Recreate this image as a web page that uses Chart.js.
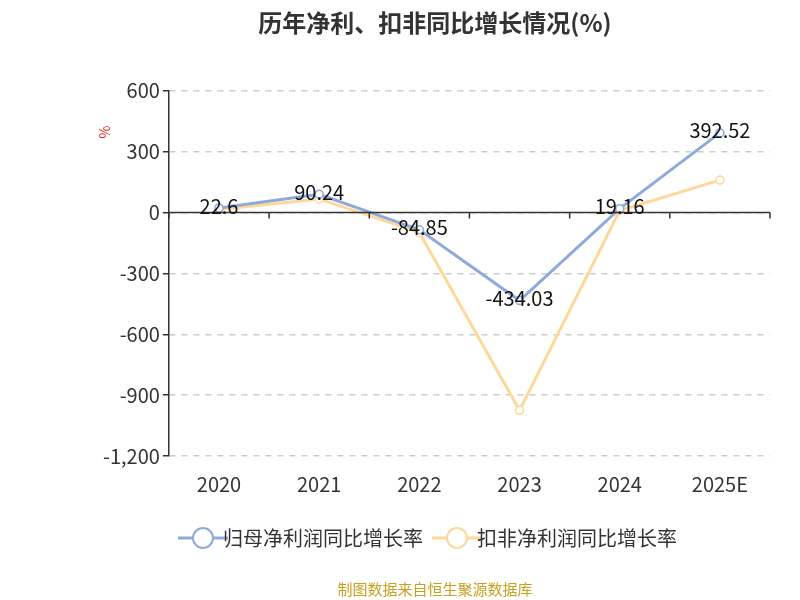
<!DOCTYPE html>
<html><head><meta charset="utf-8">
<script src="https://cdn.jsdelivr.net/npm/chart.js@4/dist/chart.umd.min.js"></script>
<style>body{margin:0;background:#fff}#w{width:800px;height:600px;position:relative}</style>
</head><body><div id="w"><canvas id="c" width="800" height="600"></canvas></div>
<script>
const categories=['2020','2021','2022','2023','2024','2025E'];
const netProfitGrowth=[22.6,90.24,-84.85,-434.03,19.16,392.52];
const deductedGrowth=[15,67,-98,-975,10,160];
const yTicks=[600,300,0,-300,-600,-900,-1200];
const F='"Noto Sans CJK SC","Noto Sans",sans-serif';
function legendIcon(col){const cv=document.createElement('canvas');cv.width=50;cv.height=26;const c=cv.getContext('2d');
 c.strokeStyle=col;c.lineWidth=3;c.beginPath();c.moveTo(0,13);c.lineTo(50,13);c.stroke();
 c.fillStyle='#fff';c.lineWidth=2;c.beginPath();c.arc(25,13,10,0,Math.PI*2);c.fill();c.stroke();return cv;}
const deco={id:'deco',afterDraw(ch){
 const c=ch.ctx,x=ch.scales.x,y=ch.scales.y;
 const y0=y.getPixelForValue(0);
 c.save();c.strokeStyle='#333';c.lineWidth=1.5;
 c.beginPath();c.moveTo(x.left,y0);c.lineTo(x.right,y0);
 for(let i=0;i<=categories.length;i++){const px=x.left+(x.right-x.left)*i/categories.length;c.moveTo(px,y0);c.lineTo(px,y0+6);}
 c.stroke();
 c.fillStyle='#e02020';c.font='14px '+F;c.translate(105,132);c.rotate(-Math.PI/2);c.textAlign='center';c.fillText('%',0,0);
 c.restore();
 c.save();c.font='20px '+F;c.fillStyle='#111';c.textAlign='center';c.textBaseline='middle';
 const m=ch.getDatasetMeta(0);
 m.data.forEach((p,i)=>c.fillText(String(netProfitGrowth[i]),p.x,p.y-2));
 c.restore();
}};
new Chart(document.getElementById('c'),{type:'line',
data:{labels:categories,datasets:[
{label:'归母净利润同比增长率',data:netProfitGrowth,borderColor:'#8eaadb',backgroundColor:'#fff',borderWidth:3,pointRadius:4,pointBorderWidth:1.5,pointBackgroundColor:'#fff',tension:0,pointStyle:'circle'},
{label:'扣非净利润同比增长率',data:deductedGrowth,borderColor:'#fdd89a',backgroundColor:'#fff',borderWidth:3,pointRadius:4,pointBorderWidth:1.5,pointBackgroundColor:'#fff',tension:0,pointStyle:'circle'}]},
options:{responsive:false,animation:false,
layout:{padding:{left:100,right:30,top:0,bottom:0}},
plugins:{title:{display:true,text:'历年净利、扣非同比增长情况(%)',font:{size:24,weight:'bold',family:F},color:'#333',padding:{top:8,bottom:54}},
legend:{position:'bottom',labels:{usePointStyle:true,font:{size:20,family:F},color:'#333',padding:24,
 generateLabels:ch=>ch.data.datasets.map((d,i)=>({text:d.label,pointStyle:legendIcon(d.borderColor),fontColor:'#333',datasetIndex:i,hidden:false,lineWidth:0}))}},
subtitle:{display:true,position:'bottom',text:'制图数据来自恒生聚源数据库',color:'#c8a020',font:{size:15,family:F},padding:{top:22,bottom:2}},
tooltip:{enabled:false}},
scales:{x:{offset:true,grid:{display:false},border:{display:false},ticks:{font:{size:20,family:F},color:'#333',padding:8}},
y:{min:-1200,max:600,afterBuildTicks:s=>{s.ticks=yTicks.map(v=>({value:v}));},
 ticks:{font:{size:20,family:F},color:'#333',callback:v=>v.toLocaleString('en-US')},
 grid:{color:'#ccc',lineWidth:1.5,drawTicks:true,tickLength:6,tickColor:'#333'},border:{display:true,color:'#333',width:1.5,dash:[6,6]}}}},
plugins:[deco]});
</script></body></html>
